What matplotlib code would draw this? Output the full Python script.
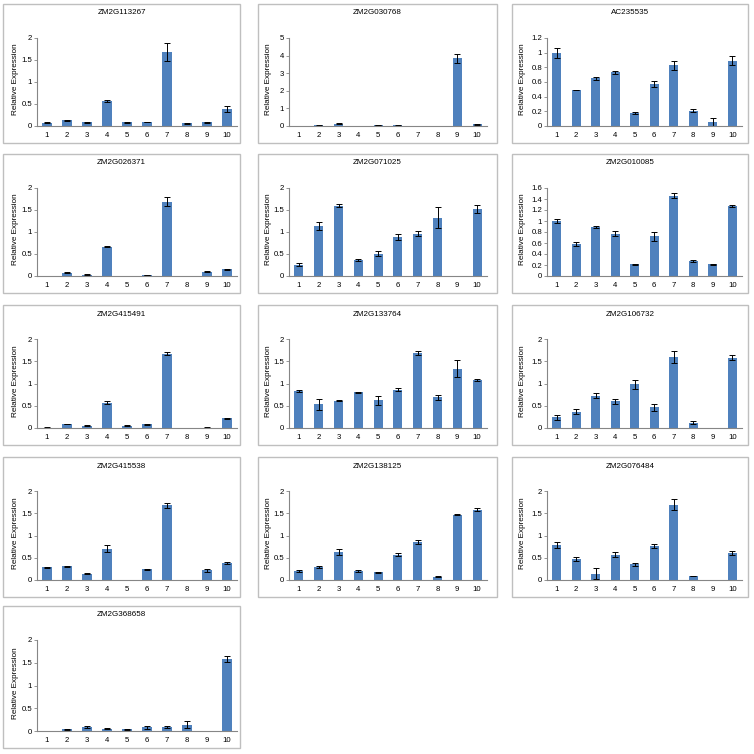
"""Relative expression of 13 genes across 10 samples, Excel-style panel grid."""

import matplotlib

matplotlib.use("Agg")
from matplotlib import pyplot as plt  # noqa: E402
from matplotlib.patches import Rectangle  # noqa: E402
from matplotlib.ticker import FuncFormatter  # noqa: E402

plt.rcParams["font.family"] = ["Liberation Sans", "DejaVu Sans"]
plt.rcParams["font.size"] = 5.6

samples = [1, 2, 3, 4, 5, 6, 7, 8, 9, 10]

genes = [
    "ZM2G113267", "ZM2G030768", "AC235535",
    "ZM2G026371", "ZM2G071025", "ZM2G010085",
    "ZM2G415491", "ZM2G133764", "ZM2G106732",
    "ZM2G415538", "ZM2G138125", "ZM2G076484",
    "ZM2G368658",
]

ymax = [2, 5, 1.2, 2, 2, 1.6, 2, 2, 2, 2, 2, 2, 2]
ystep = [0.5, 1, 0.2, 0.5, 0.5, 0.2, 0.5, 0.5, 0.5, 0.5, 0.5, 0.5, 0.5]

zm2g113267 = [0.07, 0.13, 0.08, 0.57, 0.08, 0.09, 1.68, 0.06, 0.08, 0.39]
zm2g113267_err = [0.01, 0.01, 0.01, 0.03, 0.01, 0.01, 0.20, 0.01, 0.01, 0.07]

zm2g030768 = [0.01, 0.03, 0.12, 0.005, 0.06, 0.03, 0.01, 0.005, 3.85, 0.10]
zm2g030768_err = [0.0, 0.01, 0.03, 0.0, 0.01, 0.01, 0.0, 0.0, 0.25, 0.02]

ac235535 = [1.00, 0.49, 0.65, 0.73, 0.18, 0.57, 0.83, 0.21, 0.05, 0.89]
ac235535_err = [0.07, 0.005, 0.02, 0.015, 0.01, 0.04, 0.06, 0.02, 0.06, 0.06]

zm2g026371 = [0.005, 0.07, 0.03, 0.67, 0.01, 0.02, 1.69, 0.005, 0.10, 0.15]
zm2g026371_err = [0.0, 0.01, 0.01, 0.01, 0.0, 0.005, 0.10, 0.0, 0.01, 0.01]

zm2g071025 = [0.26, 1.13, 1.60, 0.37, 0.51, 0.89, 0.96, 1.32, 0.0, 1.53]
zm2g071025_err = [0.03, 0.09, 0.03, 0.02, 0.05, 0.07, 0.06, 0.24, 0.0, 0.09]

zm2g010085 = [1.00, 0.58, 0.89, 0.77, 0.21, 0.72, 1.46, 0.27, 0.21, 1.28]
zm2g010085_err = [0.03, 0.03, 0.02, 0.04, 0.01, 0.08, 0.05, 0.02, 0.01, 0.02]

zm2g415491 = [0.01, 0.09, 0.05, 0.57, 0.05, 0.08, 1.67, 0.005, 0.01, 0.22]
zm2g415491_err = [0.005, 0.01, 0.01, 0.03, 0.01, 0.01, 0.04, 0.0, 0.005, 0.01]

zm2g133764 = [0.83, 0.53, 0.61, 0.80, 0.62, 0.86, 1.69, 0.69, 1.33, 1.08]
zm2g133764_err = [0.03, 0.13, 0.01, 0.02, 0.10, 0.03, 0.05, 0.06, 0.19, 0.03]

zm2g106732 = [0.24, 0.37, 0.73, 0.60, 0.98, 0.47, 1.60, 0.12, 0.0, 1.58]
zm2g106732_err = [0.05, 0.06, 0.06, 0.06, 0.10, 0.08, 0.13, 0.03, 0.0, 0.05]

zm2g415538 = [0.29, 0.31, 0.14, 0.70, 0.01, 0.24, 1.68, 0.01, 0.22, 0.38]
zm2g415538_err = [0.01, 0.01, 0.01, 0.08, 0.0, 0.01, 0.06, 0.0, 0.03, 0.02]

zm2g138125 = [0.20, 0.30, 0.63, 0.20, 0.17, 0.57, 0.86, 0.07, 1.47, 1.58]
zm2g138125_err = [0.02, 0.02, 0.07, 0.03, 0.01, 0.04, 0.05, 0.01, 0.02, 0.03]

zm2g076484 = [0.79, 0.47, 0.14, 0.57, 0.35, 0.76, 1.69, 0.09, 0.01, 0.61]
zm2g076484_err = [0.07, 0.04, 0.12, 0.05, 0.03, 0.05, 0.12, 0.01, 0.0, 0.04]

zm2g368658 = [0.01, 0.04, 0.09, 0.05, 0.04, 0.08, 0.09, 0.14, 0.005, 1.58]
zm2g368658_err = [0.0, 0.01, 0.03, 0.01, 0.01, 0.03, 0.03, 0.07, 0.0, 0.06]

values = [
    zm2g113267, zm2g030768, ac235535,
    zm2g026371, zm2g071025, zm2g010085,
    zm2g415491, zm2g133764, zm2g106732,
    zm2g415538, zm2g138125, zm2g076484,
    zm2g368658,
]
errors = [
    zm2g113267_err, zm2g030768_err, ac235535_err,
    zm2g026371_err, zm2g071025_err, zm2g010085_err,
    zm2g415491_err, zm2g133764_err, zm2g106732_err,
    zm2g415538_err, zm2g138125_err, zm2g076484_err,
    zm2g368658_err,
]

# layout in pixels (figure is 754 x 754)
SIZE = 754.0
BOX_X = [3, 258, 512]
BOX_W = [237, 239, 236]
AX_LEFT = [34, 31, 35]
AX_RIGHT = [3, 10, 6]
YLABEL_X = [16, 14, 14]  # right edge of the rotated label, from box left
BOX_Y = [4, 154, 305, 457, 606]
BOX_H = [139, 139, 140, 140, 142]
AX_TOP = 34
AX_BOTTOM = 17

BAR_COLOR = "#4F81BD"
AXIS_COLOR = "#868686"
BORDER_COLOR = "#BFBFBF"


def _fx(px: float) -> float:
    return px / SIZE


def _fy(py: float) -> float:
    return 1.0 - py / SIZE


def _fmt(value: float, _pos: int) -> str:
    return f"{value:g}"


fig = plt.figure(figsize=(7.54, 7.54), dpi=100)

for idx, gene in enumerate(genes):
    row, col = divmod(idx, 3)
    bx, bw = BOX_X[col], BOX_W[col]
    by, bh = BOX_Y[row], BOX_H[row]

    fig.patches.append(
        Rectangle(
            (_fx(bx), _fy(by + bh)),
            _fx(bw),
            bh / SIZE,
            transform=fig.transFigure,
            fill=False,
            edgecolor=BORDER_COLOR,
            linewidth=1.0,
        )
    )
    fig.text(_fx(bx + bw / 2), _fy(by + 9), gene, ha="center", va="center", fontsize=5.8)

    left = bx + AX_LEFT[col]
    right = bx + bw - AX_RIGHT[col]
    top = by + AX_TOP
    bottom = by + bh - AX_BOTTOM
    ax = fig.add_axes([_fx(left), _fy(bottom), _fx(right - left), (bottom - top) / SIZE])

    ax.bar(
        samples,
        values[idx],
        width=0.46,
        color=BAR_COLOR,
        yerr=errors[idx],
        error_kw={"ecolor": "black", "elinewidth": 0.7, "capsize": 2, "capthick": 0.7},
        zorder=2,
    )
    ax.set_xlim(0.5, 10.5)
    ax.set_ylim(0, ymax[idx])
    n_ticks = int(round(ymax[idx] / ystep[idx]))
    ax.set_yticks([ystep[idx] * k for k in range(n_ticks + 1)])
    ax.yaxis.set_major_formatter(FuncFormatter(_fmt))
    ax.set_xticks(samples)
    ax.set_xticklabels([str(s) for s in samples])

    for side in ("top", "right"):
        ax.spines[side].set_visible(False)
    for side in ("left", "bottom"):
        ax.spines[side].set_color(AXIS_COLOR)
        ax.spines[side].set_linewidth(0.8)
    ax.tick_params(axis="x", length=0, pad=4.5)
    ax.tick_params(axis="y", length=2, width=0.6, color=AXIS_COLOR, pad=1.5)
    ax.set_ylabel("Relative Expression", fontsize=5.9)
    label_x = (bx + YLABEL_X[col] - left) / (right - left)
    ax.yaxis.set_label_coords(label_x, 0.53)
    ax.set_facecolor("white")

fig.savefig("out.png", dpi=100, facecolor="white")
